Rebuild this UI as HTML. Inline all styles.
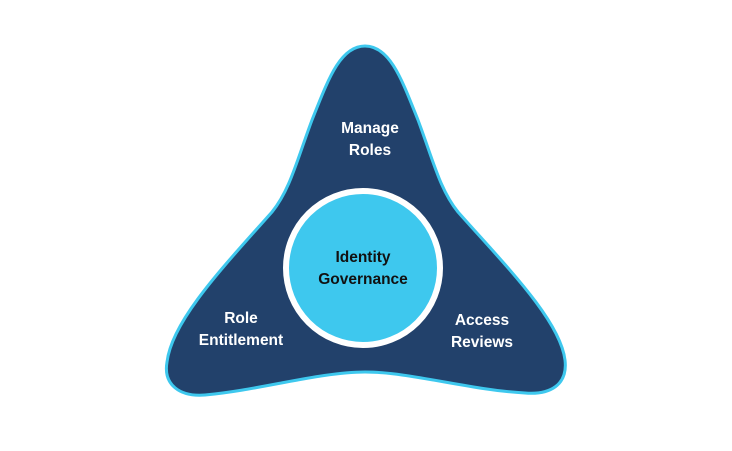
<!DOCTYPE html>
<html><head><style>
html,body{margin:0;padding:0;background:#fff;}
svg{display:block;}
text{font-family:"Liberation Sans",sans-serif;font-size:15.5px;font-weight:bold;text-anchor:middle;}
</style></head><body>
<svg width="732" height="451" viewBox="0 0 732 451">
<path d="M365,46 C390,46 402,80 418,120 C433,160 440,190 458,212 C505,265 560,320 565,360 C568,385 550,395 525,393 C470,390 410,372 365,372 C320,372 260,390 205,395 C180,397 163,385 167,362 C172,320 225,265 272,212 C290,190 297,160 312,120 C328,80 340,46 365,46 Z" fill="#22416b" stroke="#3ec8ee" stroke-width="3"/>
<circle cx="363" cy="268" r="77" fill="#3ec8ee" stroke="#fff" stroke-width="6"/>
<g fill="#fff">
<text x="370" y="133">Manage</text>
<text x="370" y="155">Roles</text>
<text x="241" y="323">Role</text>
<text x="241" y="345">Entitlement</text>
<text x="482" y="325">Access</text>
<text x="482" y="347">Reviews</text>
</g>
<g fill="#111">
<text x="363" y="262">Identity</text>
<text x="363" y="284">Governance</text>
</g>
</svg>
</body></html>
